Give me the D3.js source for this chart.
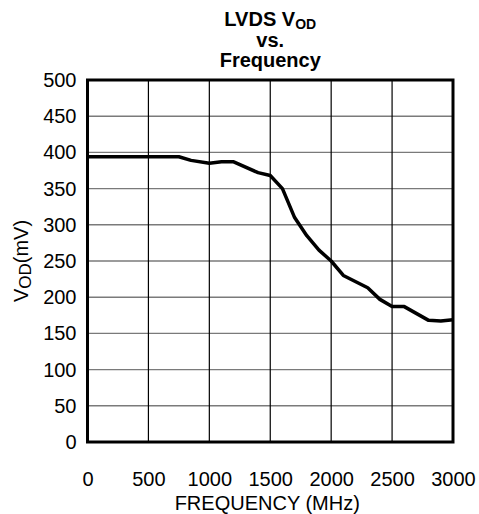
<!DOCTYPE html>
<html lang="en">
<head>
<meta charset="utf-8">
<title>LVDS VOD vs Frequency</title>
<script src="https://cdn.jsdelivr.net/npm/d3@7"></script>
<style>
  html, body { margin: 0; padding: 0; background: #fff; overflow: hidden; }
  text { font-family: "Liberation Sans", Arial, sans-serif; fill: #000; }
  .tick text { font-size: 20px; }
  .title { font-size: 20px; font-weight: bold; text-anchor: middle; }
</style>
</head>
<body>
<div id="chart"></div>
<script>
// curve
var freqMHz = [0, 750, 850, 1000, 1100, 1200, 1400, 1500, 1600, 1700, 1800, 1900, 2000, 2100, 2300, 2400, 2500, 2600, 2800, 2900, 3000];
var vodMV   = [394, 394, 389, 385, 387, 387, 372, 368, 350, 310, 285, 265, 250, 230, 213, 197, 187, 187, 168, 167, 169];

var xTicks = [0, 500, 1000, 1500, 2000, 2500, 3000];
var yTicks = [0, 50, 100, 150, 200, 250, 300, 350, 400, 450, 500];

var w = 479, h = 514;
var margin = {left: 87.5, top: 80, right: 26, bottom: 72};
var pw = w - margin.left - margin.right;
var ph = h - margin.top - margin.bottom;

var svg = d3.select("#chart").append("svg")
    .attr("width", w)
    .attr("height", h);

var g = svg.append("g")
    .attr("transform", "translate(" + margin.left + "," + margin.top + ")");

var x = d3.scaleLinear().domain([0, 3000]).range([0, pw]);
var y = d3.scaleLinear().domain([0, 500]).range([ph, 0]);

// grid: horizontal grey, vertical black
g.selectAll(".hgrid")
    .data(yTicks.slice(1, -1))
    .enter().append("line")
    .attr("x1", 0).attr("x2", pw)
    .attr("y1", function(d){ return y(d); })
    .attr("y2", function(d){ return y(d); })
    .attr("stroke", "#7a7a7a")
    .attr("stroke-width", 1.4);

g.selectAll(".vgrid")
    .data(xTicks.slice(1, -1))
    .enter().append("line")
    .attr("y1", 0).attr("y2", ph)
    .attr("x1", function(d){ return x(d); })
    .attr("x2", function(d){ return x(d); })
    .attr("stroke", "#000")
    .attr("stroke-width", 1.2);

// axes (labels only)
var xAxis = d3.axisBottom(x).tickValues(xTicks).tickFormat(d3.format("d")).tickSize(0).tickPadding(30);
var yAxis = d3.axisLeft(y).tickValues(yTicks).tickFormat(d3.format("d")).tickSize(0).tickPadding(11);

g.append("g").attr("transform", "translate(0," + ph + ")").call(xAxis)
  .call(function(s){ s.select(".domain").remove(); });
g.append("g").call(yAxis)
  .call(function(s){ s.select(".domain").remove(); });

// data line
var line = d3.line()
    .x(function(d, i){ return x(freqMHz[i]); })
    .y(function(d){ return y(d); });

g.append("path")
    .datum(vodMV)
    .attr("d", line)
    .attr("fill", "none")
    .attr("stroke", "#000")
    .attr("stroke-width", 3.5)
    .attr("stroke-linejoin", "round");

// frame
g.append("rect")
    .attr("width", pw).attr("height", ph)
    .attr("fill", "none")
    .attr("stroke", "#000")
    .attr("stroke-width", 3);

// title
var cx = margin.left + pw / 2;
var t1 = svg.append("text").attr("class", "title").attr("x", cx).attr("y", 26);
t1.append("tspan").text("LVDS V");
t1.append("tspan").attr("font-size", "14px").attr("dy", 3).text("OD");
svg.append("text").attr("class", "title").attr("x", cx).attr("y", 47).text("vs.");
svg.append("text").attr("class", "title").attr("x", cx).attr("y", 67).text("Frequency");

// axis titles
svg.append("text")
    .attr("x", cx - 3).attr("y", 510)
    .attr("text-anchor", "middle")
    .attr("font-size", "20px")
    .text("FREQUENCY (MHz)");

var yl = svg.append("text")
    .attr("transform", "translate(28," + (margin.top + ph / 2) + ") rotate(-90)")
    .attr("text-anchor", "middle")
    .attr("font-size", "20px");
yl.append("tspan").text("V");
yl.append("tspan").attr("font-size", "17px").attr("dy", 3).text("OD");
yl.append("tspan").attr("dy", -3).text("(mV)");
</script>
</body>
</html>
